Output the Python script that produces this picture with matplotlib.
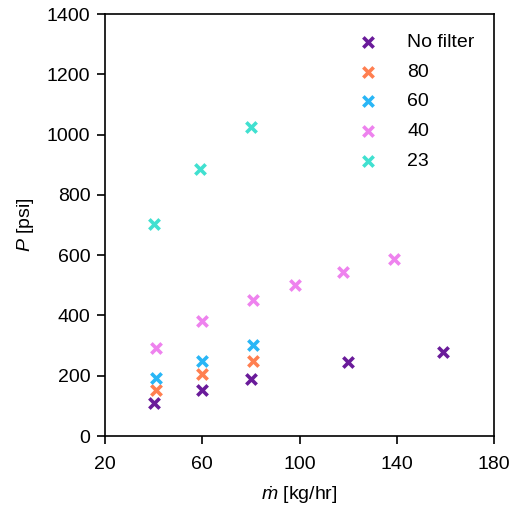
import matplotlib.pyplot as plt

plt.rcParams['font.family'] = ['Liberation Sans', 'DejaVu Sans']
plt.rcParams['mathtext.fontset'] = 'custom'
plt.rcParams['mathtext.it'] = 'Liberation Sans:italic'
plt.rcParams['mathtext.rm'] = 'Liberation Sans'

# mass flow [kg/hr] and pressure [psi] per filter
x_nofilter = [40, 60, 80, 120, 159]
p_nofilter = [110, 153, 189, 244, 280]

x_80 = [41, 60, 81]
p_80 = [153, 206, 249]

x_60 = [41, 60, 81]
p_60 = [193, 249, 302]

x_40 = [41, 60, 81, 98, 118, 139]
p_40 = [291, 382, 451, 501, 543, 587]

x_23 = [40, 59, 80]
p_23 = [702, 887, 1026]

series = [
    ('No filter', x_nofilter, p_nofilter, '#6a1b9a'),
    ('80', x_80, p_80, '#ff7f50'),
    ('60', x_60, p_60, '#29b6f6'),
    ('40', x_40, p_40, '#ee82ee'),
    ('23', x_23, p_23, '#40e0d0'),
]

fig = plt.figure(figsize=(5.13, 5.08), dpi=100)
ax = fig.add_axes([0.2047, 0.1417, 0.7583, 0.8307])

for label, xs, ps, c in series:
    ax.scatter(xs, ps, marker='x', s=55, linewidths=2.6, color=c, label=label)

ax.set_xlim(20, 180)
ax.set_ylim(0, 1400)
ax.set_xticks([20, 60, 100, 140, 180])
ax.set_yticks(range(0, 1401, 200))
ax.tick_params(labelsize=14, width=1.2, length=5.5, pad=5)
ax.tick_params(axis='x', pad=9)
for s in ax.spines.values():
    s.set_linewidth(1.2)

ax.set_xlabel(r'$\dot{m}$ [kg/hr]', fontsize=14, labelpad=8)
ax.set_ylabel(r'$P$ [psi]', fontsize=14, labelpad=8)
ax.legend(loc='upper right', frameon=False, fontsize=14, handletextpad=1.0,
          labelspacing=0.62, borderaxespad=0.6)

fig.savefig('out.png', dpi=100)
